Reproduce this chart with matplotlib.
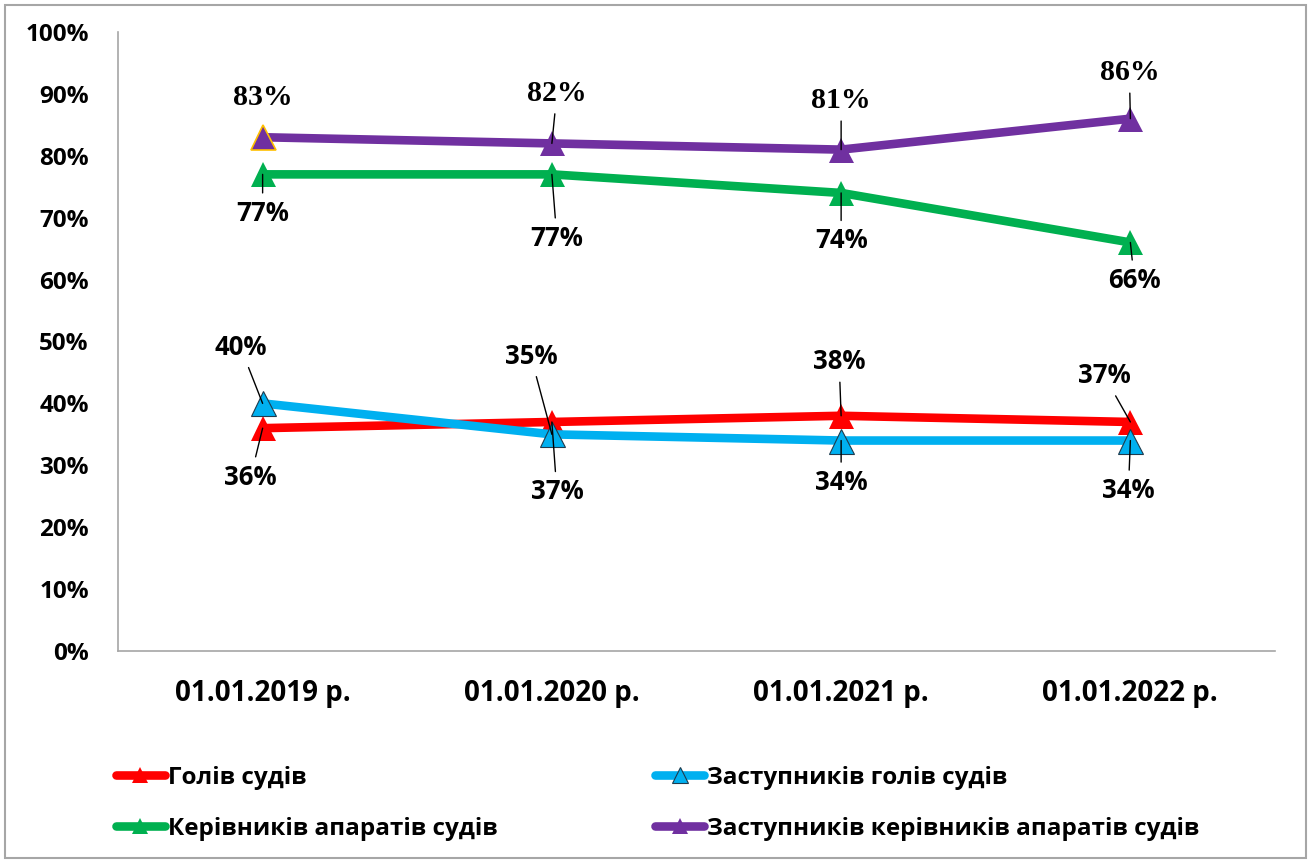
import matplotlib
matplotlib.use("Agg")
import matplotlib.pyplot as plt
from matplotlib.patches import Rectangle
from matplotlib.lines import Line2D

categories = ["01.01.2019 р.", "01.01.2020 р.", "01.01.2021 р.", "01.01.2022 р."]
series_names = ["Голів судів", "Заступників голів судів",
                "Керівників апаратів судів", "Заступників керівників апаратів судів"]
heads = [36, 37, 38, 37]
deputy_heads = [40, 35, 34, 34]
staff_heads = [77, 77, 74, 66]
deputy_staff_heads = [83, 82, 81, 86]
yticks = [0, 10, 20, 30, 40, 50, 60, 70, 80, 90, 100]

colors = ["#FF0000", "#00B0F0", "#00B050", "#7030A0"]
# label offsets in pixels (dx, dy) relative to each point; dy positive = up
offsets = [
    [(-12, -49), (5, -70), (-2, 54), (-26, 46)],
    [(-22, 56), (-21, 78), (0, -42), (-2, -50)],
    [(0, -39), (5, -64), (0, -48), (4, -38)],
    [(0, 40), (5, 50), (0, 49), (-1, 46)],
]
leaders = [
    [True, True, True, True],
    [True, True, True, True],
    [True, True, True, True],
    [False, True, True, True],
]

SANS = ["Open Sans", "DejaVu Sans"]
SERIF = ["Liberation Serif", "DejaVu Serif"]

fig = plt.figure(figsize=(13.1, 8.61), dpi=100)
fig.patches.append(Rectangle((5 / 1310, 3 / 861), 1301 / 1310, 853 / 861,
                             transform=fig.transFigure, fill=False,
                             edgecolor="#A6A6A6", lw=1.5))
ax = fig.add_axes([118 / 1310, (861 - 651) / 861, (1275 - 118) / 1310, (651 - 32) / 861])

x = list(range(len(categories)))
all_series = [heads, deputy_heads, staff_heads, deputy_staff_heads]
for i, vals in enumerate(all_series):
    mec = colors[i]
    mew = 0
    if i == 1:
        mec = "#1F3B4D"
        mew = 0.8
    ax.plot(x, vals, color=colors[i], lw=6.2, marker="^", ms=18,
            markerfacecolor=colors[i], markeredgecolor=mec, markeredgewidth=mew,
            solid_capstyle="round", zorder=3 + i)
# first purple marker has gold edge
ax.plot([x[0]], [deputy_staff_heads[0]], marker="^", ms=18, color=colors[3],
        markeredgecolor="#FFC000", markeredgewidth=1.2, zorder=8, lw=0)

for i, vals in enumerate(all_series):
    for j, v in enumerate(vals):
        dx, dy = offsets[i][j]
        fam = SERIF if i == 3 else SANS
        fs = 21.5 if i == 3 else 18.5
        ap = None
        if leaders[i][j]:
            ap = dict(arrowstyle="-", color="black", lw=1, shrinkA=3, shrinkB=0)
        ax.annotate(f"{v}%", xy=(j, v), xytext=(dx, dy), textcoords="offset pixels",
                    ha="center", va="center", fontsize=fs, fontweight="bold",
                    family=fam, arrowprops=ap, zorder=10)

ax.set_xlim(-0.5, 3.5)
ax.set_ylim(0, 100)
ax.set_yticks(yticks)
ax.set_yticklabels([f"{t}%" for t in yticks], fontsize=17.5, fontweight="bold", family=SANS)
ax.set_xticks(x)
ax.set_xticklabels(categories, fontsize=20, fontweight="bold", family=SANS)
ax.tick_params(axis="y", length=0, pad=21)
ax.tick_params(axis="x", length=0, pad=20)
for s in ["top", "right"]:
    ax.spines[s].set_visible(False)
for s in ["left", "bottom"]:
    ax.spines[s].set_color("#A6A6A6")
    ax.spines[s].set_linewidth(1.2)

order = [0, 2, 1, 3]
handles = []
for k in order:
    mec = "#1F3B4D" if k == 1 else colors[k]
    handles.append(Line2D([], [], color=colors[k], lw=6.2, marker="^", ms=12,
                          markerfacecolor=colors[k], markeredgecolor=mec,
                          markeredgewidth=0.8 if k == 1 else 0, solid_capstyle="round"))
leg = fig.legend(handles, [series_names[k] for k in order], ncol=2,
                 loc="upper left", bbox_to_anchor=(116 / 1310, 1 - 766 / 861),
                 frameon=False, borderpad=0, borderaxespad=0, handlelength=2.0,
                 handletextpad=0.12, columnspacing=6.5, labelspacing=1.1,
                 prop=dict(family=SANS, weight="bold", size=17.5))

fig.savefig("out.png", dpi=100)
